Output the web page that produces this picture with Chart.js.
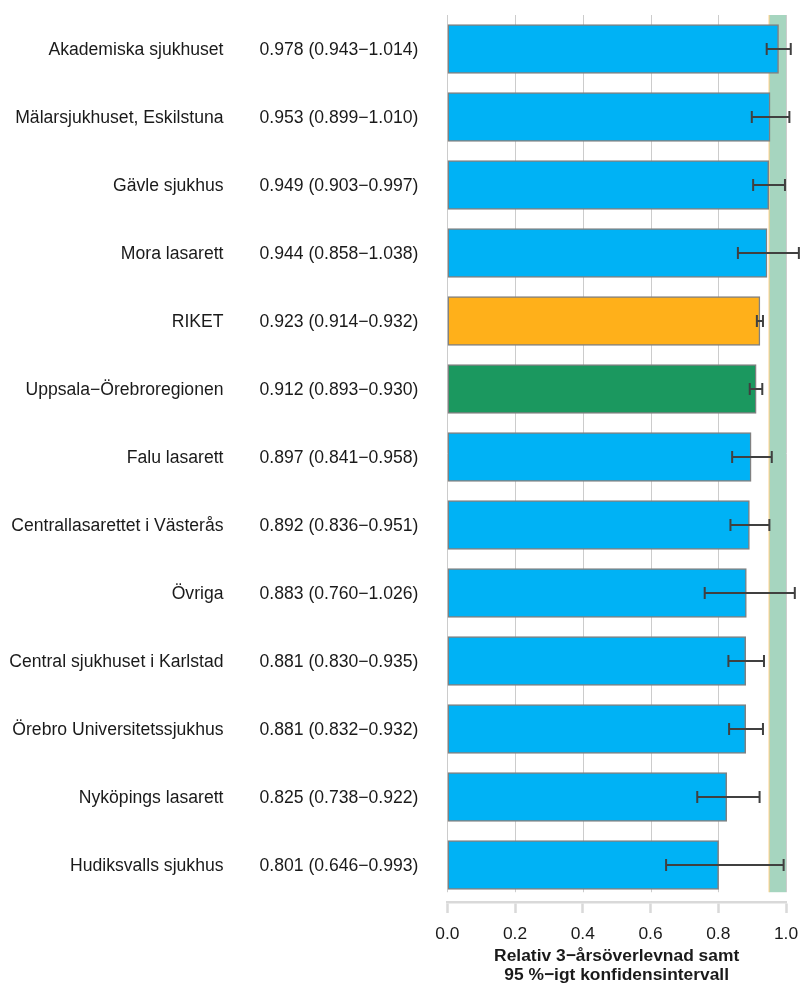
<!DOCTYPE html>
<html>
<head>
<meta charset="utf-8">
<script src="https://cdn.jsdelivr.net/npm/chart.js@4/dist/chart.umd.min.js"></script>
<style>
  body { margin: 0; background: #fff; }
  #wrap { width: 801px; height: 987px; }
</style>
</head>
<body>
<div id="wrap"><canvas id="myChart" width="801" height="987"></canvas></div>
<script>
var names = [
  "Akademiska sjukhuset",
  "Mälarsjukhuset, Eskilstuna",
  "Gävle sjukhus",
  "Mora lasarett",
  "RIKET",
  "Uppsala\u2212Örebroregionen",
  "Falu lasarett",
  "Centrallasarettet i Västerås",
  "Övriga",
  "Central sjukhuset i Karlstad",
  "Örebro Universitetssjukhus",
  "Nyköpings lasarett",
  "Hudiksvalls sjukhus"
];
var survival = [0.978, 0.953, 0.949, 0.944, 0.923, 0.912, 0.897, 0.892, 0.883, 0.881, 0.881, 0.825, 0.801];
var lower = [0.943, 0.899, 0.903, 0.858, 0.914, 0.893, 0.841, 0.836, 0.760, 0.830, 0.832, 0.738, 0.646];
var upper = [1.014, 1.010, 0.997, 1.038, 0.932, 0.930, 0.958, 0.951, 1.026, 0.935, 0.932, 0.922, 0.993];
var xTicks = [0, 0.2, 0.4, 0.6, 0.8, 1.0];
var targetFrom = 0.95;
var targetTo = 1.0;

const FONT = "'Liberation Sans', Arial, sans-serif";
const SIZE = 17.4;
const BLUE = "rgb(0,178,245)";
const ORANGE = "rgb(255,176,26)";
const GREEN = "rgb(27,152,95)";

const barColors = names.map((n) => {
  if (n == "RIKET") return ORANGE;
  if (n.indexOf("regionen") >= 0) return GREEN;
  return BLUE;
});

const fmt = (v) => v.toFixed(3);

// band, grid lines, text columns and error bars
const extras = {
  id: "extras",
  beforeDatasetsDraw(chart) {
    var { ctx, chartArea, scales } = chart;
    var x = scales.x, y = scales.y;
    var top = chartArea.top;
    var bottom = y.getPixelForValue(12.4);
    ctx.save();
    ctx.strokeStyle = "rgb(204,204,204)";
    ctx.lineWidth = 1;
    xTicks.forEach((t) => {
      var px = Math.round(x.getPixelForValue(t)) + 0.5;
      ctx.beginPath();
      ctx.moveTo(px, top);
      ctx.lineTo(px, bottom);
      ctx.stroke();
    });
    var x1 = x.getPixelForValue(targetFrom);
    var x2 = x.getPixelForValue(targetTo);
    ctx.fillStyle = "rgb(166,213,191)";
    ctx.fillRect(x1, top, x2 - x1, bottom - top);
    ctx.strokeStyle = "rgb(255,205,130)";
    ctx.beginPath();
    ctx.moveTo(x1, top);
    ctx.lineTo(x1, bottom);
    ctx.stroke();
    ctx.restore();
  },
  afterDatasetsDraw(chart) {
    var { ctx, scales } = chart;
    var x = scales.x, y = scales.y;
    ctx.save();
    ctx.strokeStyle = "rgb(64,64,64)";
    ctx.lineWidth = 2;
    for (let i = 0; i < names.length; i++) {
      var py = y.getPixelForValue(i);
      var a = x.getPixelForValue(lower[i]);
      var b = x.getPixelForValue(upper[i]);
      ctx.beginPath();
      ctx.moveTo(a, py);
      ctx.lineTo(b, py);
      ctx.moveTo(a, py - 6);
      ctx.lineTo(a, py + 6);
      ctx.moveTo(b, py - 6);
      ctx.lineTo(b, py + 6);
      ctx.stroke();
    }
    ctx.fillStyle = "#1a1a1a";
    ctx.font = "17.6px " + FONT;
    ctx.textBaseline = "alphabetic";
    for (let i = 0; i < names.length; i++) {
      var base = y.getPixelForValue(i) + 6.3;
      ctx.textAlign = "right";
      ctx.fillText(names[i], 223.5, base);
      ctx.textAlign = "left";
      ctx.fillText(`${fmt(survival[i])} (${fmt(lower[i])}\u2212${fmt(upper[i])})`, 259.5, base);
    }
    ctx.restore();
  }
};

const chartData = {
  datasets: [
    {
      data: survival.map((v, i) => ({ x: v, y: i })),
      backgroundColor: barColors,
      borderColor: "rgb(128,128,128)",
      borderWidth: 1.5,
      borderSkipped: false,
      barThickness: 49
    }
  ]
};

const config = {
  type: "bar",
  data: chartData,
  options: {
    indexAxis: "y",
    responsive: false,
    animation: false,
    layout: { padding: { left: 447.3, right: 15, top: 15, bottom: 0 } },
    plugins: { legend: { display: false }, tooltip: { enabled: false } },
    scales: {
      y: {
        type: "linear",
        display: false,
        reverse: true,
        offset: false,
        grace: 0,
        min: -0.5,
        max: 12.544
      },
      x: {
        type: "linear",
        min: 0,
        max: 1,
        afterFit: (scale) => {
          scale.height = 85;
          scale.paddingLeft = 0;
          scale.paddingRight = 0;
        },
        afterBuildTicks: (scale) => {
          scale.ticks = xTicks.map((v) => ({ value: v }));
        },
        grid: {
          drawOnChartArea: false,
          drawTicks: true,
          tickLength: 11,
          tickWidth: 2.5,
          tickColor: "rgb(217,217,217)"
        },
        border: { display: true, color: "rgb(217,217,217)", width: 2.5 },
        ticks: {
          padding: 11,
          color: "#1a1a1a",
          font: { family: FONT, size: SIZE },
          callback: (value) => Number(value).toFixed(1)
        },
        title: {
          display: true,
          text: ["Relativ 3\u2212årsöverlevnad samt", "95 %\u2212igt konfidensintervall"],
          color: "#1a1a1a",
          font: { family: FONT, size: SIZE, weight: "bold", lineHeight: 1.09 },
          padding: { top: 0, bottom: 2.5 }
        }
      }
    }
  },
  plugins: [extras]
};

const myChart = new Chart(document.getElementById("myChart"), config);
</script>
</body>
</html>
